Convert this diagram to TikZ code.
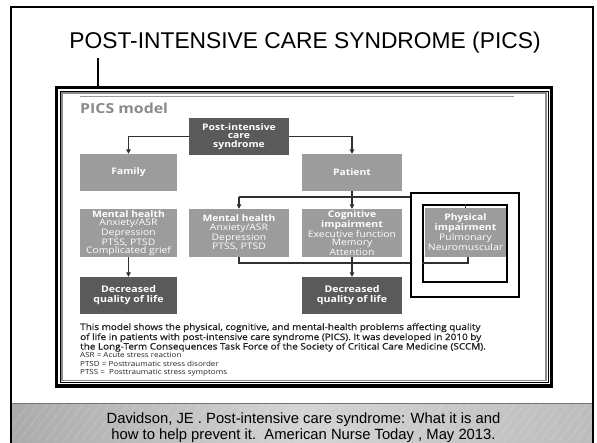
\documentclass[tikz,border=0pt]{standalone}
\usepackage{fontspec}
\setmainfont{Liberation Sans}
\newfontfamily\osans{Open Sans}[FakeStretch=1.15]
\newfontfamily\osanscap{Open Sans}[FakeStretch=1.13, FakeBold=1.0]
\usetikzlibrary{arrows.meta}
\definecolor{darkbox}{HTML}{5A5A5A}
\definecolor{lightbox}{HTML}{9C9C9C}
\definecolor{connc}{HTML}{303030}
\definecolor{modelgray}{HTML}{8A8A8A}
\definecolor{captc}{HTML}{222222}
\begin{document}
\begin{tikzpicture}[x=1pt,y=-1pt,
  box/.style={rectangle, inner sep=0pt, align=center, text=white, font=\osans\fontsize{9}{8.5}\selectfont},
  darkb/.style={box, fill=darkbox},
  lightb/.style={box, fill=lightbox},
  conn/.style={draw=connc, line width=1.1pt, -{Triangle[length=4.5pt,width=4.5pt]}},
  plainc/.style={draw=connc, line width=1.1pt},
  hl/.style={draw=black, line width=2pt, fill=white, inner sep=0pt},
  capt/.style={anchor=base west, inner sep=0pt, text=captc, font=\osanscap\fontsize{8.8}{9.8}\selectfont},
  small/.style={anchor=base west, inner sep=0pt, text=captc, font=\osans\fontsize{7}{8}\selectfont},
  cite/.style={anchor=base, inner sep=0pt, font=\fontsize{14.8}{16}\selectfont},
]
\useasboundingbox (0,0) rectangle (597,442);
\fill[white] (0,0) rectangle (597,442);
% footer band
\shade[left color=black!33, right color=black!26, middle color=black!17] (12,403) rectangle (592,442);
\begin{scope}
\clip (12,403) rectangle (592,442);
\foreach \i in {0,9,...,640} {
  \draw[white, opacity=0.12, line width=1.2pt] (\i,442) -- (\i+30,403);
}
\end{scope}
\draw[black!55, line width=1pt] (12,403) -- (592,403);
% outer slide frame
\draw[black, line width=2pt] (11,445) -- (11,7) -- (593,7) -- (593,445);
% title
\node[font=\fontsize{22.8}{26}\selectfont, anchor=base, inner sep=0pt] (title) at (305,48) {POST-INTENSIVE CARE SYNDROME (PICS)};
% picture frame
\node[draw=black, line width=3.5pt, fill=white, minimum width=495pt, minimum height=298.5pt, inner sep=0pt] (frame) at (304,236.75) {};
\node[draw=black, line width=0.8pt, minimum width=488pt, minimum height=291.5pt, inner sep=0pt] (frame2) at (304,236.75) {};
\node[draw=black!45, line width=1.4pt, minimum width=484pt, minimum height=287.5pt, inner sep=0pt] (frame3) at (304,236.75) {};
\coordinate (ptop) at (98,58);
\draw[black, line width=2pt] (ptop) -- (ptop |- frame.north);
% header inside picture
\draw[black!40, line width=0.9pt] (80,96) -- (514,96);
\node[anchor=base west, inner sep=0pt, text=modelgray, font=\osans\bfseries\fontsize{13.8}{15}\selectfont] (model) at (80,113) {PICS model};
% highlight rectangles
\node[hl, minimum width=108pt, minimum height=104pt] (hlo) at (465,245) {};
\node[hl, minimum width=84pt, minimum height=77pt] (hli) at (465,243.5) {};
% boxes
\node[darkb, minimum width=100pt, minimum height=37pt] (pics) at (239,136.5) {\bfseries Post-intensive\\\bfseries care\\\bfseries syndrome};
\node[lightb, minimum width=97pt, minimum height=37pt] (family) at (128.5,172.5) {\bfseries Family};
\node[lightb, minimum width=100pt, minimum height=37pt] (patient) at (352,172.5) {\bfseries Patient};
\node[lightb, minimum width=97pt, minimum height=48pt] (mhf) at (128.5,233) {\bfseries Mental health\\Anxiety/ASR\\Depression\\PTSS, PTSD\\Complicated grief};
\node[lightb, minimum width=100pt, minimum height=48pt] (mhp) at (239,233) {\bfseries Mental health\\Anxiety/ASR\\Depression\\PTSS, PTSD};
\node[lightb, minimum width=100pt, minimum height=48pt] (cog) at (352,233) {\bfseries Cognitive\\\bfseries impairment\\Executive function\\Memory\\Attention};
\node[lightb, minimum width=81pt, minimum height=49pt] (phys) at (465.5,232.5) {\bfseries Physical\\\bfseries impairment\\Pulmonary\\Neuromuscular};
\node[darkb, minimum width=97pt, minimum height=37pt, font=\osans\bfseries\fontsize{9.2}{9.8}\selectfont] (dqf) at (128.5,295.5) {Decreased\\quality of life};
\node[darkb, minimum width=100pt, minimum height=37pt, font=\osans\bfseries\fontsize{9.2}{9.8}\selectfont] (dqp) at (352,295.5) {Decreased\\quality of life};
% connectors
\coordinate (bar) at (0,197);
\coordinate (bot) at (0,263);
\draw[conn] (pics.west) -| (family.north);
\draw[conn] (pics.east) -| (patient.north);
\draw[conn] (patient.south) -- (cog.north);
\draw[plainc] (bar -| mhp.north) -- (bar -| hlo.west);
\draw[conn] (bar -| mhp.north) -- (mhp.north);
\draw[plainc] (hli.north -| phys.north) -- (phys.north);
\draw[conn] (mhf.south) -- (dqf.north);
\draw[plainc] (mhp.south) |- (bot -| hlo.west);
\draw[plainc] (cog.south) -- (bot -| cog.south);
\draw[conn] (bot -| cog.south) -- (dqp.north);
\draw[plainc] (phys.south -| 468,0) |- (bot -| hli.west);
% caption
\node[capt] (c1) at (80,330) {This model shows the physical, cognitive, and mental-health problems affecting quality};
\node[capt] (c2) at (80,340) {of life in patients with post-intensive care syndrome (PICS). It was developed in 2010 by};
\node[capt] (c3) at (80,349.5) {the Long-Term Consequences Task Force of the Society of Critical Care Medicine (SCCM).};
\node[small] (s1) at (80,357.5) {ASR = Acute stress reaction};
\node[small] (s2) at (80,366) {PTSD = Posttraumatic stress disorder};
\node[small] (s3) at (80,374.5) {PTSS = \ Posttraumatic stress symptoms};
% citation
\node[cite] (cite1) at (303.5,423) {Davidson, JE . Post-intensive care syndrome: What it is and};
\node[cite] (cite2) at (303.5,439.5) {how to help prevent it.\ \ American Nurse Today , May 2013.};
\end{tikzpicture}
\end{document}
